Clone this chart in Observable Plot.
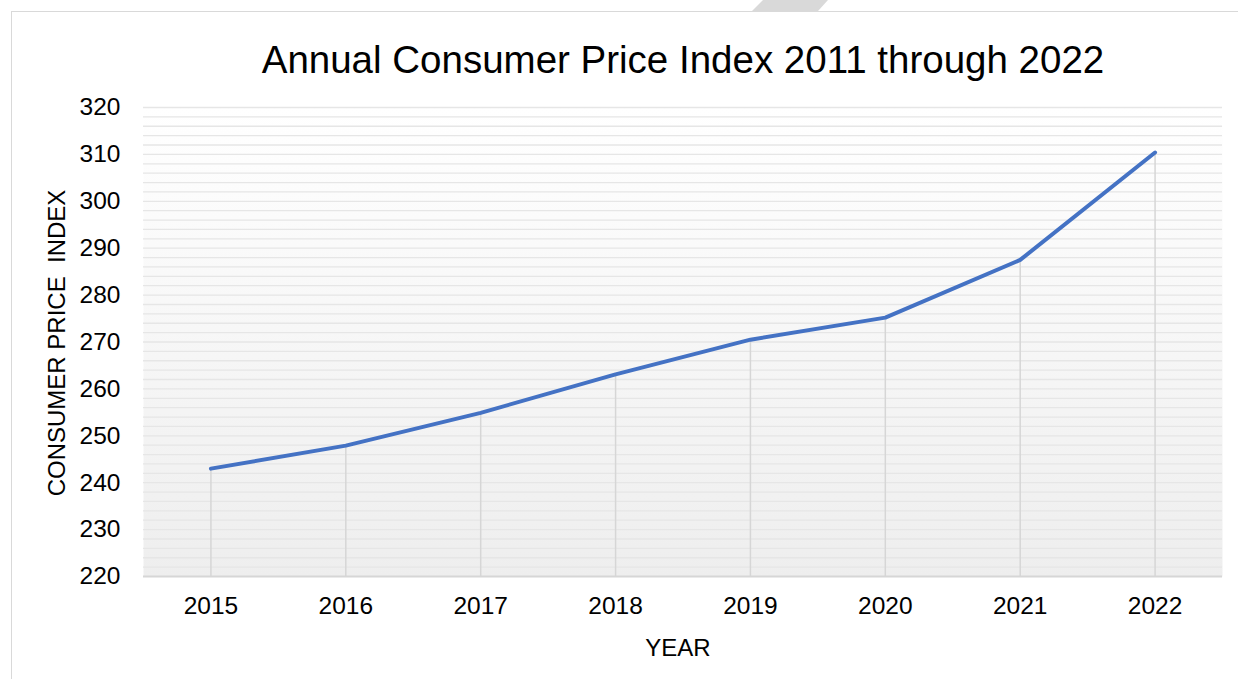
<!DOCTYPE html>
<html><head><meta charset="utf-8">
<script src="https://cdn.jsdelivr.net/npm/d3@7"></script>
<script src="https://cdn.jsdelivr.net/npm/@observablehq/plot@0.6"></script>
<style>
body{margin:0;background:#fff;font-family:"Liberation Sans",Arial,sans-serif;}
#wrap{position:relative;width:1238px;height:679px;overflow:hidden;background:#fff;}
#frame{position:absolute;left:11px;top:11px;width:1300px;height:700px;border-left:1.5px solid #d9d9d9;border-top:1.5px solid #d9d9d9;}
#slash{position:absolute;left:750px;top:0;width:80px;height:11px;background:#d9d9d9;clip-path:polygon(13px 0,78px 0,68px 100%,2px 100%);}
#chart{position:absolute;left:0;top:0;}
.t{position:absolute;white-space:pre;color:#000;line-height:1;}
#title{left:0;width:1366px;text-align:center;top:41px;font-size:38.5px;}
#ylab{left:57px;top:343px;font-size:24px;transform:translate(-50%,-50%) rotate(-90deg);}
#xlab{left:678px;top:648px;font-size:24px;transform:translate(-50%,-50%);}
</style>
</head><body>
<div id="wrap">
  <div id="frame"></div>
  <div id="slash"></div>
  <div id="chart"></div>
  <div class="t" id="title">Annual Consumer Price Index 2011 through 2022</div>
  <div class="t" id="ylab">CONSUMER PRICE  INDEX</div>
  <div class="t" id="xlab">YEAR</div>
</div>
<script>
const years = ["2015","2016","2017","2018","2019","2020","2021","2022"];
const cpi = [243.0, 247.9, 254.9, 263.1, 270.5, 275.2, 287.5, 310.4];
const yTicks = [220,230,240,250,260,270,280,290,300,310,320];
const gridValues = d3.range(222, 321, 2);
const data = years.map((y,i)=>({year:y, cpi:cpi[i]}));

const svg = Plot.plot({
  width:1238, height:679,
  marginLeft:143, marginRight:16, marginTop:107, marginBottom:103,
  style:{fontFamily:'"Liberation Sans",Arial,sans-serif', fontSize:"24.5px", color:"#000", background:"transparent", overflow:"visible"},
  x:{type:"point", domain:years, padding:0.5, round:false, label:null},
  y:{domain:[220,320], label:null},
  marks:[
    Plot.frame({fill:"url(#bgGrad)", stroke:null}),
    Plot.ruleY(gridValues,{stroke:"#e6e6e6", strokeWidth:1.3}),
    Plot.ruleX(data,{x:"year", y1:220, y2:"cpi", stroke:"#d6d6d6", strokeWidth:1.5}),
    Plot.ruleY([220],{stroke:"#d6d6d6", strokeWidth:2}),
    Plot.line(data,{x:"year", y:"cpi", stroke:"#4472C4", strokeWidth:4, strokeLinecap:"round", strokeLinejoin:"round"}),
    Plot.axisY({ticks:yTicks, tickSize:0, tickPadding:23, label:null, tickFormat:d=>String(d)}),
    Plot.axisX({tickSize:0, tickPadding:20, label:null})
  ]
});
const defs = d3.select(svg).insert("defs", ":first-child");
const g = defs.append("linearGradient").attr("id","bgGrad").attr("x1",0).attr("y1",0).attr("x2",0).attr("y2",1);
g.append("stop").attr("offset","0%").attr("stop-color","#ffffff");
g.append("stop").attr("offset","100%").attr("stop-color","#eeeeee");
document.getElementById("chart").appendChild(svg);
</script>
</body></html>
